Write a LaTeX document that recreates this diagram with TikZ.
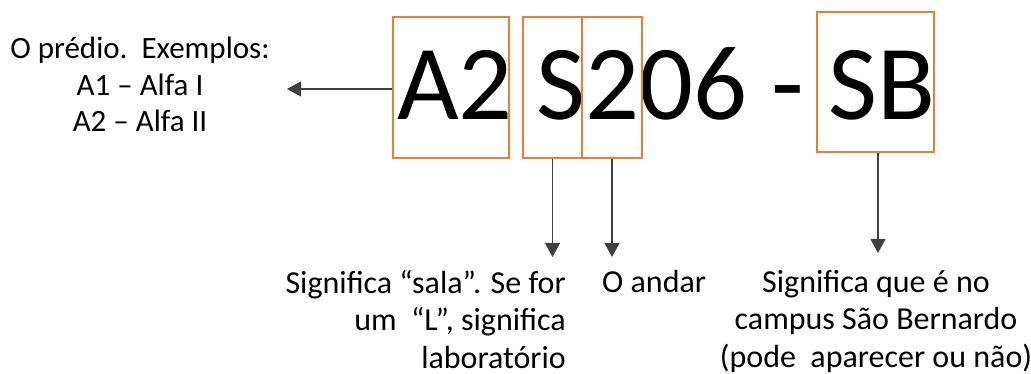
\documentclass[tikz,border=0pt]{standalone}
\usepackage{fontspec}
\setmainfont{Carlito}
\usetikzlibrary{arrows.meta}
\definecolor{boxorange}{HTML}{ED7D31}
\definecolor{arrowgray}{HTML}{404040}

\begin{document}
\begin{tikzpicture}[x=1pt,y=-1pt,
    codebox/.style={draw=boxorange, line width=1.5pt, inner sep=0pt},
    note/.style={font=\fontsize{32}{37.5}\selectfont, inner xsep=0pt, inner ysep=0pt},
    pointer/.style={draw=arrowgray, line width=1.2pt, -{Triangle[width=15pt,length=14pt]}}]
  \useasboundingbox (0,0) rectangle (1031,374);
  % the room code
  \node [anchor=base west, inner sep=0pt, font=\fontsize{106.5}{110}\selectfont] (code) at (397,120) {A2 S206 - SB};
  \node [codebox, minimum width=116pt, minimum height=141pt] (predbox) at (451,87.5) {};
  \node [codebox, minimum width=59pt, minimum height=141pt] (salabox) at (552.5,87.5) {};
  \node [codebox, minimum width=60pt, minimum height=141pt] (andarbox) at (612,87.5) {};
  \node [codebox, minimum width=117pt, minimum height=140pt] (campusbox) at (875.5,82) {};
  % explanations
  \node [note, font=\fontsize{31}{36.5}\selectfont, align=center, anchor=north] (predio) at (140,37) {O pr\'edio.\ \ Exemplos:\\A1 -- Alfa I\\A2 -- Alfa II};
  \coordinate (prediotip) at (287,89);
  \node [note, align=right, anchor=north east, inner ysep=13pt] (sala) at (566,257) {Significa ``sala''. Se for\\um\ \ ``L'', significa\\laborat\'orio};
  \node [note, align=left, anchor=north west, inner ysep=13pt] (andar) at (602,257) {O andar};
  \node [note, align=center, anchor=north, inner ysep=17pt] (campus) at (876,253) {Significa que \'e no\\campus S\~ao Bernardo\\(pode\ \ aparecer ou n\~ao)};
  % pointers
  \draw [pointer] (prediotip -| predbox.west) -- (prediotip);
  \draw [pointer] (salabox.south) -- (salabox.south |- sala.north);
  \draw [pointer] (andarbox.south) -- (andarbox.south |- andar.north);
  \draw [pointer] (campusbox.south -| 878,0) -- (878,0 |- campus.north);
\end{tikzpicture}
\end{document}
